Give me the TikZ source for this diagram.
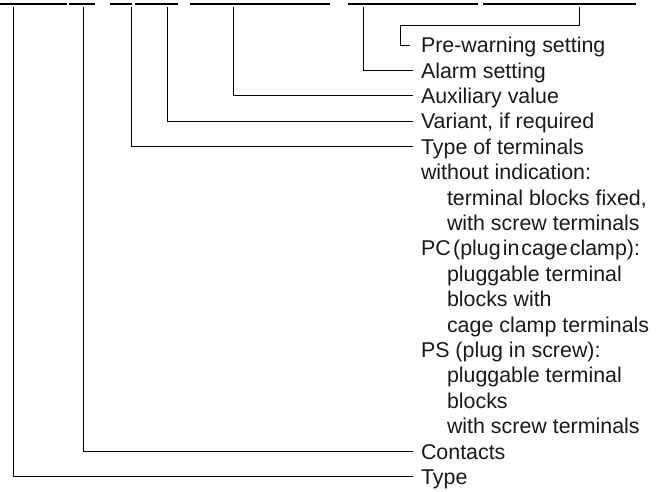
\documentclass[tikz,border=0pt]{standalone}
\usepackage{fontspec}
\setmainfont{Liberation Sans}
\usetikzlibrary{positioning}

\begin{document}
\begin{tikzpicture}[x=1pt, y=-1pt, line width=0.9pt, inner sep=0, outer sep=0,
  lbl/.style={anchor=west, inner xsep=8pt, text height=20.3pt, text depth=5.1pt,
    text=black!90, font=\fontsize{21.4}{25.4}\selectfont},
  under/.style={below=0pt of #1.south west, anchor=north west},
  indent/.style={under=#1, xshift=26pt},
  outdent/.style={under=#1, xshift=-26pt}]

\useasboundingbox (0,0) rectangle (662,491);

\draw
    (413,45) node [lbl, name=pre] {Pre-warning setting}
    node [lbl, under=pre, name=alarm] {Alarm setting}
    node [lbl, under=alarm, name=aux] {Auxiliary value}
    node [lbl, under=aux, name=variant] {Variant, if required}
    node [lbl, under=variant, name=terminals] {Type of terminals}
    node [lbl, under=terminals, name=no indication] {without indication:}
    node [lbl, indent=no indication, name=fixed] {terminal blocks fixed,}
    node [lbl, under=fixed, name=fixed screw] {with screw terminals}
    node [lbl, outdent=fixed screw, name=pc] {PC\hspace{2.5pt}(plug\hspace{2pt}in\hspace{2pt}cage\hspace{2pt}clamp):}
    node [lbl, indent=pc, name=pc pluggable] {pluggable terminal}
    node [lbl, under=pc pluggable, name=pc blocks] {blocks with}
    node [lbl, under=pc blocks, name=pc cage] {cage clamp terminals}
    node [lbl, outdent=pc cage, name=ps] {PS (plug in screw):}
    node [lbl, indent=ps, name=ps pluggable] {pluggable terminal}
    node [lbl, under=ps pluggable, name=ps blocks] {blocks}
    node [lbl, under=ps blocks, name=ps screw] {with screw terminals}
    node [lbl, outdent=ps screw, name=contacts] {Contacts}
    node [lbl, under=contacts, name=type] {Type}
;

\coordinate (type top) at (13,7);
\coordinate (contacts top) at (83,7);
\coordinate (terminals top) at (131,7);
\coordinate (variant top) at (167,7);
\coordinate (aux top) at (233,7);
\coordinate (alarm top) at (363,7);
\coordinate (pre top) at (579,7);
\coordinate (pre bend) at (400,25);

\draw (type top) |- (type.west);
\draw (contacts top) |- (contacts.west);
\draw (terminals top) |- (terminals.west);
\draw (variant top) |- (variant.west);
\draw (aux top) |- (aux.west);
\draw (alarm top) |- (alarm.west);
\draw[shorten >=3pt] (pre top) |- (pre bend) |- (pre.west);

%% code line
\foreach \a/\b in {0/67, 69/95, 110/132, 135/178, 190/330, 348/478, 483/636}
    \draw[line width=1.3pt] (\a,4) -- (\b,4);

\end{tikzpicture}
\end{document}
